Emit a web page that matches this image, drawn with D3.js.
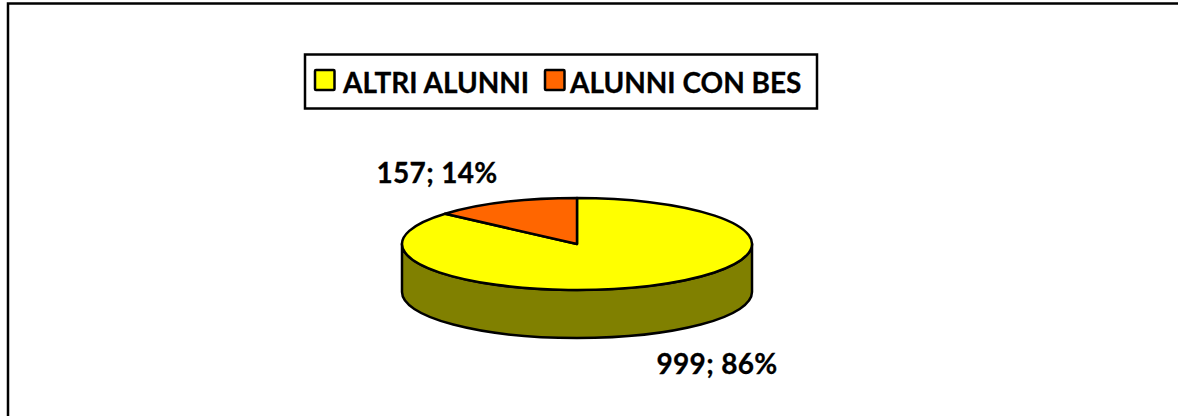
<!DOCTYPE html>
<html>
<head>
<meta charset="utf-8">
<script src="https://cdn.jsdelivr.net/npm/d3@7"></script>
<style>
  html, body { margin: 0; padding: 0; background: #fff; overflow: hidden; }
  svg { display: block; }
  text { font-family: Lato, sans-serif; font-weight: 700; fill: #000; stroke: #000; stroke-width: 0.3px; }
</style>
</head>
<body>
<div id="chart"></div>
<script>
var categories = ["ALTRI ALUNNI", "ALUNNI CON BES"];
var values = [999, 157];
var percents = [86, 14];
var topColors = ["#ffff00", "#ff6600"];
var sideColors = ["#808000", "#803300"];

var width = 1178, height = 416;
var cx = 577, cy = 244, rx = 175, ry = 46, depth = 48;

var svg = d3.select("#chart").append("svg")
    .attr("width", width)
    .attr("height", height);

// outer frame, runs past the right and bottom edges of the picture
svg.append("rect")
    .attr("x", 8).attr("y", 3.5)
    .attr("width", 1190).attr("height", 430)
    .attr("fill", "#fff")
    .attr("stroke", "#000")
    .attr("stroke-width", 2.5);

// pie angles, first slice starts at 12 o'clock going clockwise
var pie = d3.pie().sort(null).value(function(d) { return d; });
var slices = pie(values);

// squash the flat circle into an ellipse
function px(a) { return cx + rx * Math.sin(a); }
function py(a) { return cy - ry * Math.cos(a); }

function slicePath(s) {
    var large = s.endAngle - s.startAngle > Math.PI ? 1 : 0;
    return "M" + cx + "," + cy +
        "L" + px(s.startAngle) + "," + py(s.startAngle) +
        "A" + rx + "," + ry + " 0 " + large + " 1 " + px(s.endAngle) + "," + py(s.endAngle) + "Z";
}

// side wall, only the front half is visible
svg.append("path")
    .attr("d", "M" + (cx - rx) + "," + cy +
        "A" + rx + "," + ry + " 0 0 0 " + (cx + rx) + "," + cy +
        "L" + (cx + rx) + "," + (cy + depth) +
        "A" + rx + "," + ry + " 0 0 1 " + (cx - rx) + "," + (cy + depth) + "Z")
    .attr("fill", sideColors[0])
    .attr("stroke", "#000")
    .attr("stroke-width", 2.5)
    .attr("stroke-linejoin", "round");

svg.selectAll("path.slice")
    .data(slices)
    .enter().append("path")
    .attr("class", "slice")
    .attr("d", slicePath)
    .attr("fill", function(d, i) { return topColors[i]; })
    .attr("stroke", "#000")
    .attr("stroke-width", 2.5)
    .attr("stroke-linejoin", "round");

// data labels
var labelPos = [[717, 373.5], [437, 183]];
svg.selectAll("text.label")
    .data(values)
    .enter().append("text")
    .attr("class", "label")
    .attr("x", function(d, i) { return labelPos[i][0]; })
    .attr("y", function(d, i) { return labelPos[i][1]; })
    .attr("text-anchor", "middle")
    .attr("font-size", 28)
    .attr("letter-spacing", 0.3)
    .text(function(d, i) { return d + "; " + percents[i] + "%"; });

// legend
svg.append("rect")
    .attr("x", 305).attr("y", 54.5)
    .attr("width", 512).attr("height", 54)
    .attr("fill", "#fff")
    .attr("stroke", "#000")
    .attr("stroke-width", 2.5);

var legendX = [315, 545];
var legendTextX = [28, 25];
var legend = svg.selectAll("g.legend")
    .data(categories)
    .enter().append("g")
    .attr("class", "legend")
    .attr("transform", function(d, i) { return "translate(" + legendX[i] + ",70)"; });

legend.append("rect")
    .attr("width", 19.5).attr("height", 20)
    .attr("rx", 1)
    .attr("fill", function(d, i) { return topColors[i]; })
    .attr("stroke", "#000")
    .attr("stroke-width", 2.5);

legend.append("text")
    .attr("x", function(d, i) { return legendTextX[i]; })
    .attr("y", 22.5)
    .attr("font-size", 28)
    .text(function(d) { return d; });
</script>
</body>
</html>
